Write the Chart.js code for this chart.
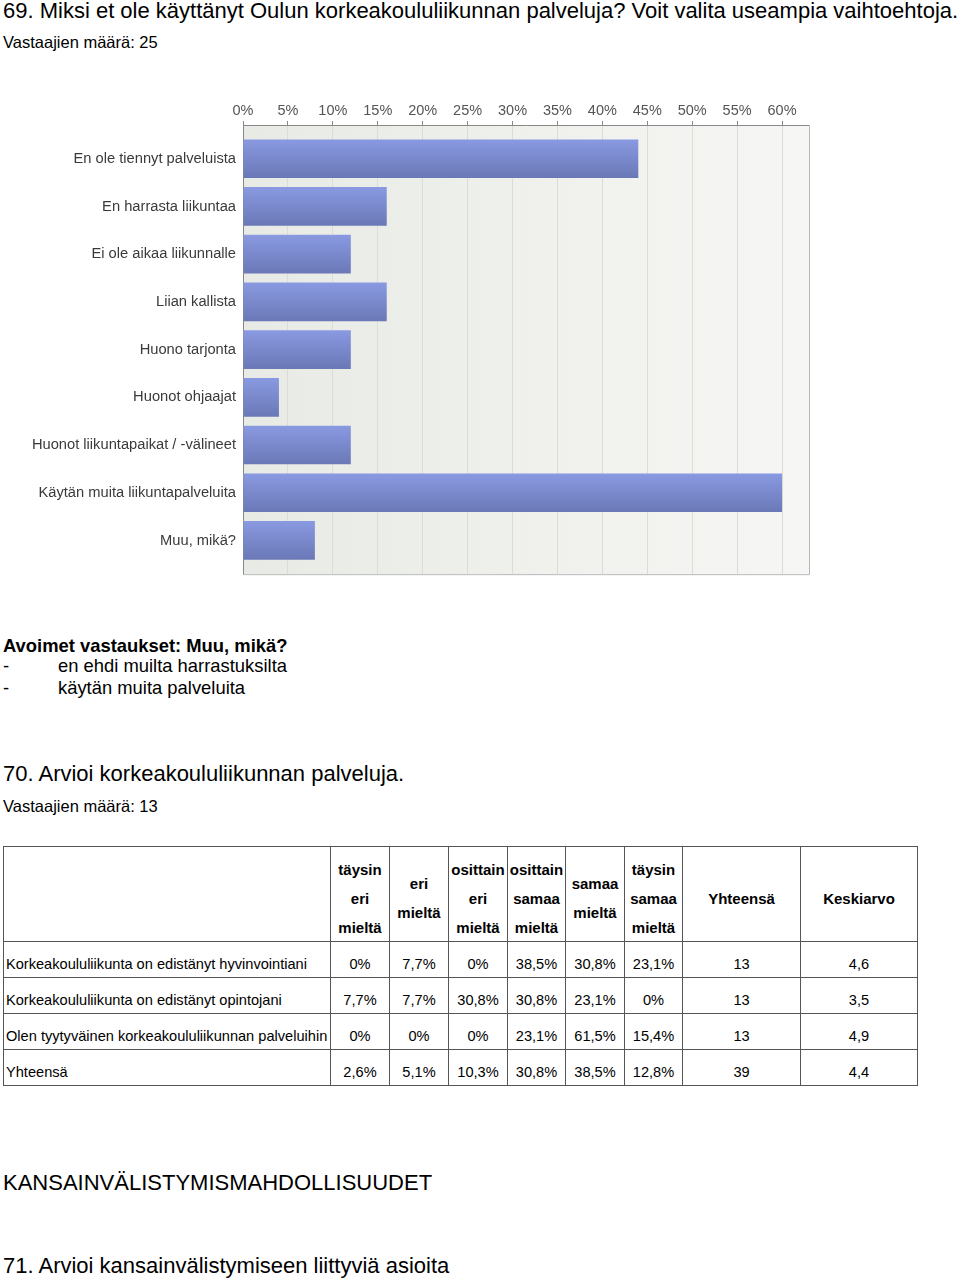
<!DOCTYPE html>
<html>
<head>
<meta charset="utf-8">
<script src="https://cdn.jsdelivr.net/npm/chart.js@4.4.1/dist/chart.umd.min.js"></script>
<style>
  html,body{margin:0;padding:0;background:#fff;}
  body{width:960px;height:1278px;position:relative;overflow:hidden;font-family:"Liberation Sans",Arial,sans-serif;color:#000;}
  .t{position:absolute;left:3px;white-space:nowrap;line-height:1;}
  .h1{font-size:22px;}
  .h2{font-size:16.5px;}
  .b{font-size:18.4px;font-weight:bold;}
  .p{font-size:18.4px;}
  #cwrap{position:absolute;left:0;top:95px;width:830px;height:495px;}
  table{position:absolute;left:3px;top:846px;border-collapse:collapse;font-size:14.6px;table-layout:fixed;}
  td,th{border:1.5px solid #555;padding:0;text-align:center;vertical-align:middle;white-space:nowrap;overflow:visible;}
  th{font-weight:bold;font-size:15px;line-height:29px;height:94px;}
  th div{position:relative;top:4px;}
  td{height:35px;}
  td span{position:relative;top:4px;}
  td.l{text-align:left;padding-left:2px;}
</style>
</head>
<body>
<div class="t h1" style="top:0px;">69. Miksi et ole käyttänyt Oulun korkeakoululiikunnan palveluja? Voit valita useampia vaihtoehtoja.</div>
<div class="t h2" style="top:34px;">Vastaajien määrä: 25</div>
<div id="cwrap"><canvas id="c"></canvas></div>
<div class="t b" style="top:637px;">Avoimet vastaukset: Muu, mikä?</div>
<div class="t p" style="top:657px;">-</div>
<div class="t p" style="top:657px;left:58px;">en ehdi muilta harrastuksilta</div>
<div class="t p" style="top:679px;">-</div>
<div class="t p" style="top:679px;left:58px;">käytän muita palveluita</div>
<div class="t h1" style="top:763px;">70. Arvioi korkeakoululiikunnan palveluja.</div>
<div class="t h2" style="top:798px;">Vastaajien määrä: 13</div>
<table id="tbl"></table>
<div class="t h1" style="top:1172px;">KANSAINVÄLISTYMISMAHDOLLISUUDET</div>
<div class="t h1" style="top:1255px;">71. Arvioi kansainvälistymiseen liittyviä asioita</div>

<script>
// ---- Chart data (question 69) ----
const categories = [
  "En ole tiennyt palveluista",
  "En harrasta liikuntaa",
  "Ei ole aikaa liikunnalle",
  "Liian kallista",
  "Huono tarjonta",
  "Huonot ohjaajat",
  "Huonot liikuntapaikat / -välineet",
  "Käytän muita liikuntapalveluita",
  "Muu, mikä?"
];
const percentages = [44, 16, 12, 16, 12, 4, 12, 60, 8];
const xTickValues = [0, 5, 10, 15, 20, 25, 30, 35, 40, 45, 50, 55, 60];

// ---- Table data (question 70) ----
const tableHeaders = ["", "täysin<br>eri<br>mieltä", "eri<br>mieltä", "osittain<br>eri<br>mieltä", "osittain<br>samaa<br>mieltä", "samaa<br>mieltä", "täysin<br>samaa<br>mieltä", "Yhteensä", "Keskiarvo"];
const rowLabels = [
  "Korkeakoululiikunta on edistänyt hyvinvointiani",
  "Korkeakoululiikunta on edistänyt opintojani",
  "Olen tyytyväinen korkeakoululiikunnan palveluihin",
  "Yhteensä"
];
const rowHyvinvointi = ["0%", "7,7%", "0%", "38,5%", "30,8%", "23,1%", "13", "4,6"];
const rowOpinnot = ["7,7%", "7,7%", "30,8%", "30,8%", "23,1%", "0%", "13", "3,5"];
const rowTyytyvainen = ["0%", "0%", "0%", "23,1%", "61,5%", "15,4%", "13", "4,9"];
const rowYhteensa = ["2,6%", "5,1%", "10,3%", "30,8%", "38,5%", "12,8%", "39", "4,4"];
const colWidths = [327, 59, 59, 59, 58, 59, 58, 118, 117];

// build table
(function(){
  const tbl = document.getElementById('tbl');
  const total = colWidths.reduce((a,b)=>a+b,0);
  tbl.style.width = total + 'px';
  let html = '<colgroup>';
  colWidths.forEach(w=>{ html += '<col style="width:'+w+'px">'; });
  html += '</colgroup><tr>';
  tableHeaders.forEach(h=>{ html += '<th><div>'+h+'</div></th>'; });
  html += '</tr>';
  const rows = [rowHyvinvointi, rowOpinnot, rowTyytyvainen, rowYhteensa];
  rows.forEach((r,ri)=>{
    html += '<tr><td class="l"><span>'+rowLabels[ri]+'</span></td>';
    r.forEach(v=>{ html += '<td><span>'+v+'</span></td>'; });
    html += '</tr>';
  });
  tbl.innerHTML = html;
})();

const plotBg = {
  id: 'plotBg',
  beforeDraw(chart){
    const {ctx, chartArea:a} = chart;
    if(!a) return;
    const g = ctx.createLinearGradient(a.left,0,a.right,0);
    g.addColorStop(0,'#e8eae5');
    g.addColorStop(1,'#f6f7f4');
    ctx.save();
    ctx.fillStyle = g;
    ctx.fillRect(a.left,a.top,a.right-a.left,a.bottom-a.top);
    ctx.restore();
  },
  afterDraw(chart){
    const {ctx, chartArea:a} = chart;
    ctx.save();
    ctx.strokeStyle = '#b8b8b8';
    ctx.lineWidth = 1;
    ctx.beginPath();
    ctx.moveTo(a.right+0.5,a.top);
    ctx.lineTo(a.right+0.5,a.bottom+0.5);
    ctx.lineTo(a.left,a.bottom+0.5);
    ctx.stroke();
    ctx.restore();
  }
};

function barGradient(context){
  const chart = context.chart;
  const ys = chart.scales && chart.scales.y;
  if(!chart.chartArea || !ys) return '#7686cc';
  const yc = ys.getPixelForValue(context.dataIndex);
  const half = 19.5;
  const g = chart.ctx.createLinearGradient(0, yc-half, 0, yc+half);
  g.addColorStop(0,'#8a9ae2');
  g.addColorStop(1,'#6a78b6');
  return g;
}

new Chart(document.getElementById('c'), {
  type: 'bar',
  data: {
    datasets: [{
      data: percentages.map((v,i)=>({x:v, y:i})),
      backgroundColor: barGradient,
      borderWidth: 0,
      barPercentage: 0.81,
      categoryPercentage: 1.0
    }]
  },
  options: {
    indexAxis: 'y',
    responsive: true,
    maintainAspectRatio: false,
    animation: false,
    layout: { padding: { left: 0, right: 21, top: 0, bottom: 5 } },
    plugins: { legend: { display: false }, tooltip: { enabled: false } },
    scales: {
      x: {
        type: 'linear',
        position: 'top',
        min: 0,
        max: 63,
        afterBuildTicks(scale){ scale.ticks = xTickValues.map(v=>({value:v})); },
        afterFit(scale){ scale.height = 30; },
        ticks: {
          callback: v => v + '%',
          color: '#555',
          font: { family: 'Liberation Sans, Arial', size: 14.5 },
          padding: 1,
          maxRotation: 0
        },
        grid: { color: '#dcdcd6', tickLength: 4, tickColor: '#888', drawTicks: true },
        border: { color: '#888', width: 1 }
      },
      y: {
        type: 'linear',
        reverse: true,
        offset: false,
        min: -0.707,
        max: 8.707,
        afterBuildTicks(scale){ scale.ticks = categories.map((c,i)=>({value:i})); },
        afterFit(scale){ scale.width = 243; },
        ticks: {
          callback: (v) => categories[v],
          color: '#3a3a3a',
          font: { family: 'Liberation Sans, Arial', size: 14.7 },
          padding: 7
        },
        grid: { display: false, drawTicks: false },
        border: { color: '#888', width: 1 }
      }
    }
  },
  plugins: [plotBg]
});
</script>
</body>
</html>
